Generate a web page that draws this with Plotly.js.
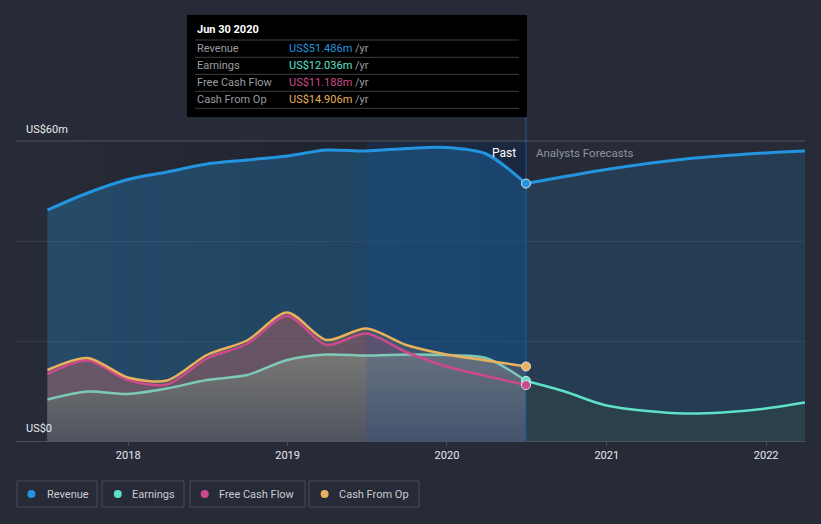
<!DOCTYPE html>
<html><head><meta charset="utf-8">
<script src="https://cdn.plot.ly/plotly-3.0.1.min.js"></script>
<style>html,body{margin:0;padding:0;background:#262b37;}</style>
</head><body><div id="chart" style="width:821px;height:524px;"></div>
<script>
// ---- data ----
const pastDates = ['2017-06-30','2017-09-30','2017-12-31','2018-03-31','2018-06-30','2018-09-30','2018-12-31','2019-03-31','2019-06-30','2019-09-30','2019-12-31','2020-03-31','2020-06-30'];
const revenuePast  = [46.2,49.6,52.3,53.8,55.4,56.2,57.0,58.2,58.0,58.5,58.7,57.4,51.486];
const earningsPast = [8.3,9.9,9.4,10.5,12.2,13.2,16.2,17.3,17.1,17.3,17.2,16.6,12.036];
const fcfPast      = [13.4,16.1,12.2,11.3,16.5,19.4,25.0,19.2,21.5,17.8,14.9,13.0,11.188];
const cfoPast      = [14.2,16.6,12.7,12.1,17.2,20.1,25.7,20.2,22.5,19.2,17.3,16.1,14.906];
const revForecastDates  = ['2020-06-30','2020-12-31','2021-06-30','2021-12-31','2022-03-31'];
const revenueForecast   = [51.486,54.3,56.4,57.6,58.0];
const earnForecastDates = ['2020-06-30','2020-09-30','2020-12-31','2021-06-30','2021-12-31','2022-03-31'];
const earningsForecast  = [12.036,9.8,7.1,5.5,6.5,7.7];
const highlightDates = ['2019-06-30','2020-06-30'];
const yearTicks  = ['2018-01-01','2019-01-01','2020-01-01','2021-01-01','2022-01-01'];
const yearLabels = ['2018','2019','2020','2021','2022'];
const seriesNames  = ['Revenue','Earnings','Free Cash Flow','Cash From Op'];
const seriesColors = ['#2394df','#5fe0cb','#cc4a8c','#e9b15c'];
const tooltipDate = 'Jun 30 2020';

// ---- layout helpers ----
const PL=16, PR=805, PT=141, PB=441;
const px = v => (v-PL)/(PR-PL);
const py = v => (PB-v)/(PB-PT);
const last = a => a[a.length-1];
const nowDate = last(pastDates);
const spl = {shape:'spline', smoothing:0.8};

const traces = [];
// past darkening
traces.push({x:[pastDates[0], nowDate], y:[60,60], mode:'lines', line:{width:0}, fill:'tozeroy',
  fillgradient:{type:'horizontal', colorscale:[[0,'rgba(0,0,0,0)'],[1,'rgba(0,0,0,0.28)']]}, hoverinfo:'skip'});
// fills
traces.push({x:pastDates, y:revenuePast, mode:'lines', line:Object.assign({width:0},spl), fill:'tozeroy', fillcolor:'rgba(35,148,223,0.30)'});
traces.push({x:revForecastDates, y:revenueForecast, mode:'lines', line:Object.assign({width:0},spl), fill:'tozeroy', fillcolor:'rgba(35,148,223,0.17)'});
traces.push({x:pastDates, y:cfoPast, mode:'lines', line:Object.assign({width:0},spl), fill:'tozeroy', fillcolor:'rgba(233,160,90,0.20)'});
traces.push({x:pastDates, y:fcfPast, mode:'lines', line:Object.assign({width:0},spl), fill:'tozeroy', fillcolor:'rgba(204,75,110,0.22)'});
traces.push({x:pastDates, y:earningsPast, mode:'lines', line:Object.assign({width:0},spl), fill:'tozeroy',
  fillgradient:{type:'vertical', start:0, stop:18, colorscale:[[0,'rgb(80,84,95)'],[1,'rgb(120,120,117)']]}});
traces.push({x:earnForecastDates, y:earningsForecast, mode:'lines', line:Object.assign({width:0},spl), fill:'tozeroy', fillcolor:'rgb(42,64,75)'});
// highlight band (last 12 months)
traces.push({x:highlightDates, y:[60,60], mode:'lines', line:{width:0}, fill:'tozeroy', fillcolor:'rgba(20,85,185,0.17)'});
// now line inside plot
traces.push({x:[nowDate,nowDate], y:[0,60], mode:'lines', line:{width:1, color:'#1d5a9c'}});
// lines
traces.push({x:pastDates, y:revenuePast, mode:'lines', line:Object.assign({width:3, color:seriesColors[0]},spl)});
traces.push({x:revForecastDates, y:revenueForecast, mode:'lines', line:Object.assign({width:3, color:seriesColors[0]},spl)});
traces.push({x:pastDates, y:earningsPast, mode:'lines', line:Object.assign({width:2.5, color:'rgba(130,220,195,0.85)'},spl)});
traces.push({x:earnForecastDates, y:earningsForecast, mode:'lines', line:Object.assign({width:2.5, color:seriesColors[1]},spl)});
traces.push({x:pastDates, y:fcfPast, mode:'lines', line:Object.assign({width:2.5, color:seriesColors[2]},spl)});
traces.push({x:pastDates, y:cfoPast, mode:'lines', line:Object.assign({width:2.5, color:seriesColors[3]},spl)});
// markers at now
const mk = (y,c) => ({x:[nowDate], y:[y], mode:'markers', cliponaxis:false,
  marker:{size:9, color:c, line:{color:'#dfe3e8', width:1}}});
traces.push(mk(last(revenuePast), seriesColors[0]));
traces.push(mk(last(cfoPast), seriesColors[3]));
traces.push(mk(last(earningsPast), seriesColors[1]));
traces.push(mk(last(fcfPast), seriesColors[2]));

const shapes = [];
const annotations = [];
// top gridline
shapes.push({type:'line', xref:'paper', yref:'paper', x0:0, x1:1, y0:1, y1:1, line:{color:'rgba(255,255,255,0.2)', width:1}, layer:'above'});
// now line above plot to tooltip
shapes.push({type:'line', xref:'x', yref:'paper', x0:nowDate, x1:nowDate, y0:1, y1:py(117), line:{color:'#1d5a9c', width:1}, layer:'above'});
// tooltip box
shapes.push({type:'rect', xref:'paper', yref:'paper', x0:px(187), x1:px(527), y0:py(117), y1:py(15), fillcolor:'#000000', line:{width:0}, layer:'above'});
[40,57.3,74.3,91.3,108.3].forEach(yy => shapes.push({type:'line', xref:'paper', yref:'paper', x0:px(195), x1:px(519), y0:py(yy), y1:py(yy), line:{color:'#3d3f44', width:1}, layer:'above'}));
annotations.push({xref:'paper', yref:'paper', x:px(195), y:py(30), xanchor:'left', yanchor:'middle', showarrow:false, text:'<b>'+tooltipDate+'</b>', font:{size:11, color:'#ffffff'}});
const tipVals = [last(revenuePast), last(earningsPast), last(fcfPast), last(cfoPast)];
const rowY = [48.3,65.2,82.2,99.2];
seriesNames.forEach((n,i) => {
  annotations.push({xref:'paper', yref:'paper', x:px(195), y:py(rowY[i]), xanchor:'left', yanchor:'middle', showarrow:false, text:n, font:{size:11, color:'#9a9da3'}});
  annotations.push({xref:'paper', yref:'paper', x:px(287), y:py(rowY[i]), xanchor:'left', yanchor:'middle', showarrow:false,
    text:'<span style="color:'+seriesColors[i]+'">US$'+tipVals[i].toFixed(3)+'m</span> /yr', font:{size:11, color:'#9a9da3'}});
});
// y labels
annotations.push({xref:'paper', yref:'paper', x:px(24), y:py(129), xanchor:'left', yanchor:'middle', showarrow:false, text:'US$60m', font:{size:11, color:'#e8eaed'}});
annotations.push({xref:'paper', yref:'paper', x:px(24), y:py(428.5), xanchor:'left', yanchor:'middle', showarrow:false, text:'US$0', font:{size:11, color:'#e8eaed'}});
// past / forecast labels
annotations.push({xref:'paper', yref:'paper', x:px(518), y:py(153), xanchor:'right', yanchor:'middle', showarrow:false, text:'Past', font:{size:12, color:'#ffffff'}});
annotations.push({xref:'paper', yref:'paper', x:px(534), y:py(153), xanchor:'left', yanchor:'middle', showarrow:false, text:'Analysts Forecasts', font:{size:11.5, color:'#8f949c'}});
// legend
const boxX = [[17,97],[102,184],[190,305],[309,419]];
const dotX = [31.4,117.8,204.7,324.6];
const txtX = [44.5,129.8,216.8,337];
seriesNames.forEach((n,i) => {
  shapes.push({type:'rect', xref:'paper', yref:'paper', x0:px(boxX[i][0]), x1:px(boxX[i][1]), y0:py(507), y1:py(481), line:{color:'#474d59', width:1}, fillcolor:'rgba(0,0,0,0)', layer:'above'});
  shapes.push({type:'circle', xref:'paper', yref:'paper', x0:px(dotX[i]-4), x1:px(dotX[i]+4), y0:py(498), y1:py(490), fillcolor:seriesColors[i], line:{width:0}, layer:'above'});
  annotations.push({xref:'paper', yref:'paper', x:px(txtX[i]), y:py(494), xanchor:'left', yanchor:'middle', showarrow:false, text:n, font:{size:11, color:'#c9ccd2'}});
});

const layout = {
  width:821, height:524,
  margin:{l:PL, r:821-PR, t:PT, b:524-PB, pad:0},
  paper_bgcolor:'#262b37', plot_bgcolor:'#262b37',
  showlegend:false, hovermode:false,
  font:{family:'Roboto, sans-serif', size:11, color:'#e8eaed'},
  xaxis:{type:'date', range:['2017-04-19','2022-03-31'], tickvals:yearTicks, ticktext:yearLabels,
    showgrid:false, showline:true, linecolor:'#4b515d', linewidth:1, ticks:'outside', ticklen:4, tickcolor:'#4b515d',
    tickfont:{size:11, color:'#e8eaed'}, zeroline:false, fixedrange:true},
  yaxis:{range:[0,60], tickvals:[0,20,40,60], showticklabels:false, showgrid:true, gridcolor:'rgba(255,255,255,0.08)',
    zeroline:false, fixedrange:true},
  shapes:shapes, annotations:annotations
};
Plotly.newPlot('chart', traces, layout, {displayModeBar:false, staticPlot:true});
</script></body></html>
